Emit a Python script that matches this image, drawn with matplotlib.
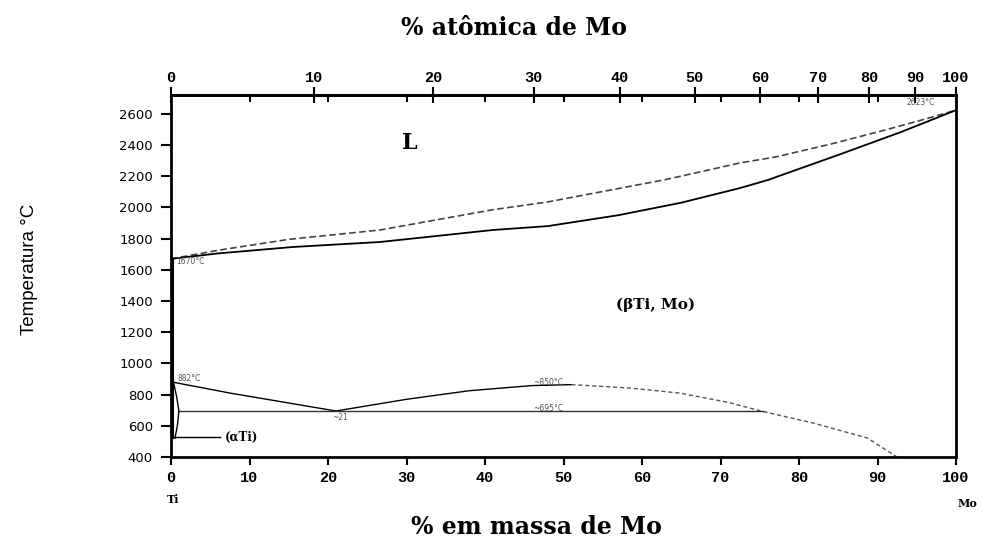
import numpy as np
import matplotlib
matplotlib.use("Agg")
import matplotlib.pyplot as plt

# Ti-Mo phase diagram (wt% Mo, temperature in C)
liq_w = [0, 6, 15, 26.6, 41, 48, 63, 72.5, 77, 84, 91, 96, 100]
liq_T = [1670, 1725, 1795, 1855, 1985, 2035, 2178, 2285, 2323, 2405, 2496, 2565, 2623]

sol_w = [0, 6, 15.5, 26.6, 41, 48, 57, 65, 72.5, 76, 85, 93, 100]
sol_T = [1670, 1705, 1746, 1778, 1855, 1880, 1950, 2030, 2124, 2175, 2336, 2483, 2623]

transus_w = [0, 7.5, 21]
transus_T = [882, 810, 695]

gap_w = [21, 30, 38, 46, 51]
gap_T = [695, 770, 825, 858, 864]

gap_dash_w = [51, 58.5, 64.8, 71, 75.4, 81.8, 88.7, 92.5]
gap_dash_T = [864, 842, 810, 750, 692, 618, 522, 400]

mono_w = [0.9, 75.4]
mono_T = [695, 695]

alpha_w = [0.3, 0.7, 1.0, 0.8, 0.5]
alpha_T = [882, 790, 695, 600, 520]
alpha2_w = [0.3, 0.3]
alpha2_T = [882, 520]

wt_ticks = list(range(0, 101, 10))
at_ticks = list(range(0, 101, 10))
temp_ticks = list(range(400, 2601, 200))

M_MO = 95.95
M_TI = 47.87


def wt2at(w):
    w = np.asarray(w, dtype=float)
    a = w / M_MO
    b = (100 - w) / M_TI
    return 100 * a / (a + b)


def at2wt(a):
    a = np.asarray(a, dtype=float)
    return 100 * a * M_MO / (a * M_MO + (100 - a) * M_TI)


fig = plt.figure(figsize=(9.87, 5.48), dpi=100)
ax = fig.add_axes([0.1733, 0.166, 0.7953, 0.6606])

ax.plot(liq_w, liq_T, color="#444444", lw=1.2, dashes=(4, 2))
ax.plot(sol_w, sol_T, color="black", lw=1.3)
ax.plot(transus_w, transus_T, color="black", lw=1.0)
ax.plot(gap_w, gap_T, color="black", lw=1.0)
ax.plot(gap_dash_w, gap_dash_T, color="#555555", lw=1.0, dashes=(3, 2))
ax.plot(mono_w, mono_T, color="#333333", lw=1.0)
ax.plot(alpha_w, alpha_T, color="black", lw=1.0)
ax.plot(alpha2_w, alpha2_T, color="black", lw=1.5)
# vertical line on the Ti side from the melting point down
ax.plot([0.3, 0.3], [1670, 882], color="black", lw=1.5)
# leader line for the alpha label
ax.plot([0.3, 6.3], [528, 528], color="black", lw=1.0)

ax.set_xlim(0, 100)
ax.set_ylim(400, 2720)

for s in ax.spines.values():
    s.set_linewidth(2)

ax.set_xticks(wt_ticks)
ax.set_yticks(temp_ticks)
ax.tick_params(axis="x", direction="out", length=6, width=1.5, pad=4,
               labelsize=11)
ax.tick_params(axis="y", direction="out", length=7, width=1.5, pad=6,
               labelsize=9.5)
for lab in ax.get_xticklabels():
    lab.set_family("Liberation Mono")
    lab.set_fontweight("bold")

secax = ax.secondary_xaxis("top", functions=(wt2at, at2wt))
secax.set_xticks(at_ticks)
secax.set_xticks(wt2at(np.arange(10, 100, 10)), minor=True)
secax.tick_params(axis="x", which="major", direction="inout", length=11,
                  width=1.5, pad=2, labelsize=11)
secax.tick_params(axis="x", which="minor", direction="in", length=5,
                  width=1.5)
for lab in secax.get_xticklabels():
    lab.set_family("Liberation Mono")
    lab.set_fontweight("bold")
secax.spines["top"].set_linewidth(2)

ax.set_ylabel("Temperatura °C", family="Liberation Sans", fontsize=13.5)
ax.yaxis.set_label_coords(-0.17, 0.517)

# region labels
serif = dict(family="DejaVu Serif", fontweight="bold", color="black")
ax.text(30.4, 2413, "L", fontsize=16, ha="center", va="center", **serif)
ax.text(61.7, 1374, "(βTi, Mo)", fontsize=11, ha="center", va="center", **serif)
ax.text(6.8, 528, "(αTi)", fontsize=8.5, ha="left", va="center", **serif)

# small temperature marks
small = dict(fontsize=5.5, color="#555555", family="DejaVu Sans")
ax.text(0.6, 1650, "1670°C", ha="left", va="center", **small)
ax.text(0.8, 905, "882°C", ha="left", va="center", **small)
ax.text(21.5, 655, "~21", ha="center", va="center", **small)
ax.text(48, 878, "~850°C", ha="center", va="center", **small)
ax.text(48, 712, "~695°C", ha="center", va="center", **small)
ax.text(95.5, 2675, "2623°C", ha="center", va="center", **small)

# titles and element labels
fig.text(0.521, 0.949, "% atômica de Mo", ha="center", va="center",
         fontsize=17, **serif)
fig.text(0.544, 0.038, "% em massa de Mo", ha="center", va="center",
         fontsize=17, **serif)
fig.text(0.175, 0.088, "Ti", ha="center", va="center", fontsize=8, **serif)
fig.text(0.980, 0.082, "Mo", ha="center", va="center", fontsize=8, **serif)

fig.savefig("out.png", dpi=100)
